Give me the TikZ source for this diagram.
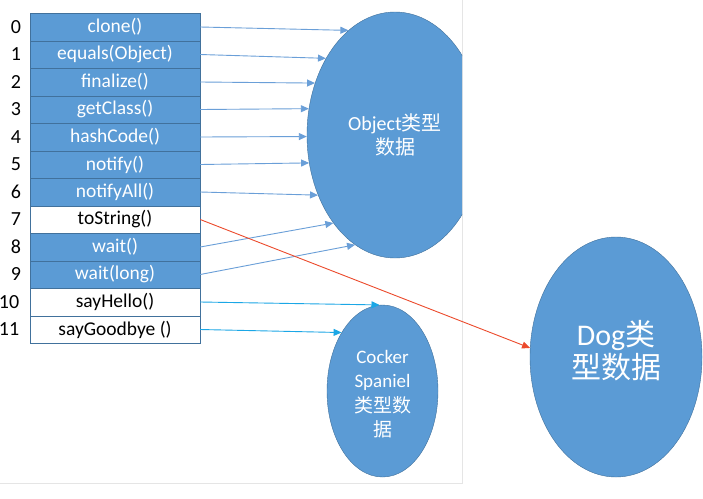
\documentclass[tikz,border=0pt]{standalone}
\usepackage{fontspec}
\setmainfont{Carlito}
\newfontfamily\cjk{Noto Sans CJK SC}
\usetikzlibrary{positioning,shapes.geometric,arrows.meta}
\definecolor{cellblue}{HTML}{5B9BD5}
\definecolor{cellline}{HTML}{41719C}
\definecolor{ptrblue}{HTML}{6A9FD8}
\definecolor{ptrcyan}{HTML}{1BA7E6}
\definecolor{ptrred}{HTML}{EC4A2C}

\begin{document}
\begin{tikzpicture}[x=1pt, y=-1pt,
  cell/.style={draw=cellline, minimum width=170, minimum height=27.5, inner sep=0, font=\fontsize{19.5}{19.5}\selectfont},
  bluecell/.style={cell, fill=cellblue, text=white},
  whitecell/.style={cell, fill=white, text=black},
  idx/.style={font=\fontsize{20}{20}\selectfont},
  blob/.style={ellipse, fill=cellblue, draw=cellline, inner sep=0, text=white, align=center},
  ptr/.style={-{Triangle[length=8pt,width=7pt]}, line width=0.9pt, draw=ptrblue}]
\fill[white] (0,0) rectangle (703,498);
\useasboundingbox (0,0) rectangle (703,498);
\draw[black!10] (462,0) -- (462,483) -- (0,483);

% method table
\foreach \i/\txt/\kind in {0/clone()/bluecell, 1/equals(Object)/bluecell, 2/finalize()/bluecell,
    3/getClass()/bluecell, 4/hashCode()/bluecell, 5/notify()/bluecell, 6/notifyAll()/bluecell,
    7/toString()/whitecell, 8/wait()/bluecell, 9/wait(long)/bluecell,
    10/sayHello()/whitecell, 11/sayGoodbye ()/whitecell}
  \node[\kind] (r\i) at (115, {27+27.5*\i}) {\txt};
\foreach \i in {0,...,9}
  \node[idx] (n\i) at (16, {27+27.5*\i}) {\i};
\node[idx] (n10) at (9, 302) {10};
\node[idx] (n11) at (9, 329.5) {11};

% data blobs
\begin{scope}
\clip (0,0) rectangle (462,498);
\node[blob, minimum width=176, minimum height=246, font=\fontsize{20}{24}\selectfont] (obj) at (395,135)
  {Object{\cjk 类型}\\{\cjk 数据}};
\end{scope}
\node[blob, minimum width=111, minimum height=172] (cocker) at (382.5,391) {};
\node[text=white, align=center, font=\fontsize{19}{24.5}\selectfont] (cockertxt) at (382.5,394)
  {Cocker\\Spaniel\\{\cjk 类型数}\\{\cjk 据}};
\node[blob, minimum width=172, minimum height=240] (dog) at (616,357) {};
\node[text=white, align=center, font=\fontsize{30}{33}\selectfont] (dogtxt) at (616,351)
  {Dog{\cjk 类}\\{\cjk 型数据}};

% pointers
\foreach \i/\a in {0/114, 1/132, 2/147, 3/163, 4/181, 5/198, 6/218, 8/235, 9/250}
  \draw[ptr] (r\i.east) -- (obj.\a);
\draw[ptr, draw=ptrred] (r7.east) -- (dog.174);
\draw[ptr, draw=ptrcyan] (r10.east) -- (cocker.92);
\draw[ptr, draw=ptrcyan] (r11.east) -- (cocker.125);
\end{tikzpicture}
\end{document}
